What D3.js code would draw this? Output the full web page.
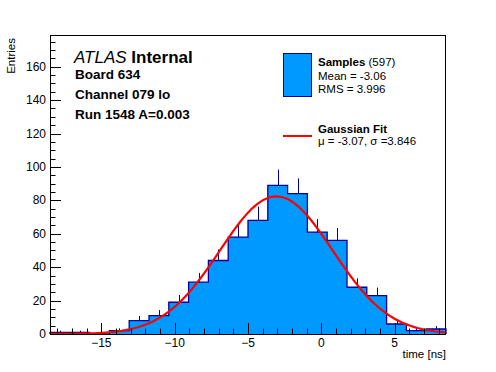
<!DOCTYPE html>
<html>
<head>
<meta charset="utf-8">
<script src="https://cdn.jsdelivr.net/npm/d3@7"></script>
<style>
  body { margin: 0; background: #fff; }
  svg text { font-family: "Liberation Sans", Arial, Helvetica, sans-serif; }
</style>
</head>
<body>
<svg id="chart"></svg>
<script>
var width = 496, height = 372;
var frame = {left: 50, right: 446, top: 35, bottom: 334};

// histogram: 20 bins from -18.5 to 8.5 ns
var xMin = -18.5, xMax = 8.5;
var binCounts = [1, 1, 0, 2, 8, 11, 19, 31, 44, 58, 68, 89, 84, 61, 56, 28, 23, 6, 2, 3];
var yMax = 179;

var xTickValues = [-15, -10, -5, 0, 5];
var yTickValues = [0, 20, 40, 60, 80, 100, 120, 140, 160];

// fit parameters (from legend)
var fitMu = -3.07, fitSigma = 3.846, fitConst = 82.4;

var infoLines = ["Board 634", "Channel 079 lo", "Run 1548 A=0.003"];
var legendSamples = ["Mean = -3.06", "RMS = 3.996"];
var nEntries = 597;

var fillColor = "#0099ff", edgeColor = "#000099", fitColor = "#ff0000";

var svg = d3.select("#chart").attr("width", width).attr("height", height);

var x = d3.scaleLinear().domain([xMin, xMax]).range([frame.left, frame.right]);
var y = d3.scaleLinear().domain([0, yMax]).range([frame.bottom, frame.top]);

var binWidth = (xMax - xMin) / binCounts.length;
var bins = binCounts.map(function(c, i) {
  return {x0: xMin + i * binWidth, x1: xMin + (i + 1) * binWidth, n: c};
});

function draw_hist() {
  var g = svg.append("g").attr("class", "hist");

  // step points shared by fill and outline
  var pts = [[xMin, 0]];
  bins.forEach(function(d) { pts.push([d.x0, d.n]); pts.push([d.x1, d.n]); });
  pts.push([xMax, 0]);

  var area = d3.area()
    .x(function(d) { return x(d[0]); })
    .y0(y(0))
    .y1(function(d) { return y(d[1]); });
  g.append("path")
    .attr("d", area(pts))
    .attr("fill", fillColor);

  var line = d3.line().x(function(d) { return x(d[0]); }).y(function(d) { return y(d[1]); });
  g.append("path")
    .attr("d", line(pts))
    .attr("fill", "none")
    .attr("stroke", edgeColor)
    .attr("stroke-width", 1.3);

  // error bars, upper half only
  g.selectAll(".err")
    .data(bins.filter(function(d) { return d.n > 0; }))
    .enter().append("line")
    .attr("class", "err")
    .attr("x1", function(d) { return Math.round(x((d.x0 + d.x1) / 2)) + 0.5; })
    .attr("x2", function(d) { return Math.round(x((d.x0 + d.x1) / 2)) + 0.5; })
    .attr("y1", function(d) { return y(d.n); })
    .attr("y2", function(d) { return y(d.n + Math.sqrt(d.n)); })
    .attr("stroke", edgeColor)
    .attr("stroke-width", 1);
}

function draw_fit() {
  var xs = d3.range(0, 101).map(function(i) { return xMin + (xMax - xMin) * i / 100; });
  var gaus = function(t) {
    return fitConst * Math.exp(-0.5 * Math.pow((t - fitMu) / fitSigma, 2));
  };
  var line = d3.line().x(function(d) { return x(d); }).y(function(d) { return y(gaus(d)); });
  svg.append("path")
    .attr("d", line(xs))
    .attr("fill", "none")
    .attr("stroke", fitColor)
    .attr("stroke-width", 2.2);
}

function draw_axes() {
  var g = svg.append("g").attr("class", "axes");

  // frame
  g.append("rect")
    .attr("x", frame.left + 0.5).attr("y", frame.top + 0.5)
    .attr("width", frame.right - frame.left - 1).attr("height", frame.bottom - frame.top)
    .attr("fill", "none").attr("stroke", "#000").attr("stroke-width", 1);

  // x ticks: major every 5, minor every 1
  var xMinor = d3.range(Math.ceil(xMin), Math.floor(xMax) + 1);
  g.selectAll(".xt")
    .data(xMinor)
    .enter().append("line")
    .attr("x1", function(d) { return Math.round(x(d)) + 0.5; })
    .attr("x2", function(d) { return Math.round(x(d)) + 0.5; })
    .attr("y1", frame.bottom)
    .attr("y2", function(d) { return frame.bottom - (d % 5 === 0 ? 11 : 5.5); })
    .attr("stroke", "#000");

  g.selectAll(".xl")
    .data(xTickValues)
    .enter().append("text")
    .attr("x", function(d) { return x(d); })
    .attr("y", 347)
    .attr("text-anchor", "middle")
    .style("font-size", "12px")
    .text(function(d) { return d < 0 ? "\u2212" + Math.abs(d) : d; });

  // y ticks: major every 20, minor every 5
  var yMinor = d3.range(0, yMax, 5);
  g.selectAll(".yt")
    .data(yMinor)
    .enter().append("line")
    .attr("x1", frame.left)
    .attr("x2", function(d) { return frame.left + (d % 20 === 0 ? 11 : 5.5); })
    .attr("y1", function(d) { return Math.round(y(d)) + 0.5; })
    .attr("y2", function(d) { return Math.round(y(d)) + 0.5; })
    .attr("stroke", "#000");

  g.selectAll(".yl")
    .data(yTickValues)
    .enter().append("text")
    .attr("x", 46)
    .attr("y", function(d) { return y(d) + 4; })
    .attr("text-anchor", "end")
    .style("font-size", "12px")
    .text(function(d) { return d; });

  // axis titles
  g.append("text")
    .attr("transform", "translate(15,38) rotate(-90)")
    .attr("text-anchor", "end")
    .style("font-size", "11.5px")
    .text("Entries");

  g.append("text")
    .attr("x", frame.right).attr("y", 358)
    .attr("text-anchor", "end")
    .style("font-size", "11.5px")
    .text("time [ns]");
}

function draw_labels() {
  var t = svg.append("text").attr("x", 74).attr("y", 63).style("font-size", "17px");
  t.append("tspan").style("font-style", "italic").text("ATLAS");
  t.append("tspan").style("font-weight", "bold").text(" Internal");

  svg.selectAll(".info")
    .data(infoLines)
    .enter().append("text")
    .attr("x", 75)
    .attr("y", function(d, i) { return 79 + i * 20; })
    .style("font-size", "13.5px")
    .style("font-weight", "bold")
    .text(function(d) { return d; });
}

function draw_legend() {
  var g = svg.append("g").attr("class", "legend");

  g.append("rect")
    .attr("x", 283.5).attr("y", 53.5).attr("width", 28).attr("height", 43)
    .attr("fill", fillColor).attr("stroke", edgeColor).attr("stroke-width", 1);

  var t = g.append("text").attr("x", 318).attr("y", 66).style("font-size", "11.5px");
  t.append("tspan").style("font-weight", "bold").text("Samples");
  t.append("tspan").text(" (" + nEntries + ")");

  g.selectAll(".ls")
    .data(legendSamples)
    .enter().append("text")
    .attr("x", 318)
    .attr("y", function(d, i) { return 79.5 + i * 13.5; })
    .style("font-size", "11.5px")
    .text(function(d) { return d; });

  g.append("line")
    .attr("x1", 283).attr("x2", 312).attr("y1", 136).attr("y2", 136)
    .attr("stroke", fitColor).attr("stroke-width", 2);

  g.append("text")
    .attr("x", 318).attr("y", 132.5)
    .style("font-size", "11.5px").style("font-weight", "bold")
    .text("Gaussian Fit");

  g.append("text")
    .attr("x", 318).attr("y", 145)
    .style("font-size", "11.5px")
    .text("\u03bc = " + fitMu + ", \u03c3 =" + fitSigma);
}

draw_hist();
draw_fit();
draw_axes();
draw_labels();
draw_legend();
</script>
</body>
</html>
